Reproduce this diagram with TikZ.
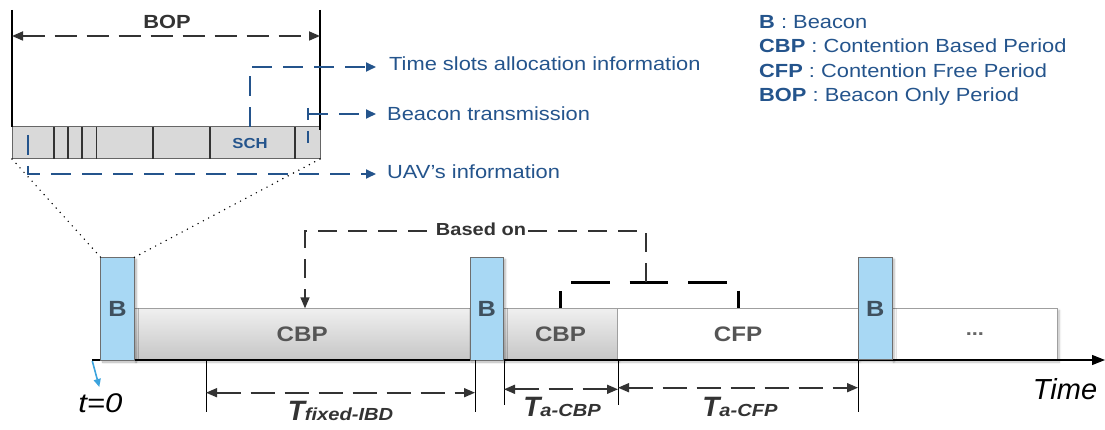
\documentclass[tikz,border=0pt]{standalone}
\usepackage{fontspec}
\setmainfont[FakeStretch=1.15]{Liberation Sans}
\newfontfamily\plainsans{Liberation Sans}
\usetikzlibrary{arrows.meta,shadows.blur}
\definecolor{bfill}{HTML}{A8D8F4}
\definecolor{bborder}{HTML}{6E6E6E}
\definecolor{btext}{HTML}{3F505E}
\definecolor{segtext}{HTML}{555555}
\definecolor{navy}{HTML}{24548C}
\definecolor{dk}{HTML}{333333}
\definecolor{minigray}{HTML}{D9D9D9}
\definecolor{tblue}{HTML}{3BA3DD}
\begin{document}
\begin{tikzpicture}[x=1pt,y=-1pt,
  fs/.style={font=\fontsize{#1}{#1}\selectfont},
  fsb/.style={font=\fontsize{#1}{#1}\selectfont\bfseries},
  bluedash/.style={draw=navy,line width=1.8pt,dash pattern=on 20pt off 11pt},
  bluetip/.style={-{Triangle[length=10pt,width=9pt]}},
  dimline/.style={draw=dk,line width=1.7pt,dash pattern=on 22pt off 10pt},
  dimtips/.style={{Triangle[length=11pt,width=9pt]}-{Triangle[length=11pt,width=9pt]}},
  ticks/.style={draw=black,line width=1pt},
  seg/.style={draw=gray!75,line width=0.8pt,inner sep=0pt,outer sep=0pt,minimum height=51.7pt,
    text=segtext,fsb=21,blur shadow={shadow blur steps=6,shadow xshift=1.5pt,shadow yshift=-2pt,shadow opacity=25}},
  grayshade/.style={top color=gray!12,bottom color=gray!45},
  bbox/.style={draw=bborder,fill=bfill,line width=0.8pt,inner sep=0pt,outer sep=0pt,
    minimum height=102.7pt,text=btext,fsb=22,
    blur shadow={shadow blur steps=6,shadow xshift=2pt,shadow yshift=-2pt,shadow opacity=30}},
  dotline/.style={draw=black,line width=1.6pt,dash pattern=on 0pt off 6pt,line cap=round},
  bluetext/.style={text=navy,fs=19,anchor=base west,inner sep=0pt},
  legtext/.style={text=navy,fs=19,anchor=base west,inner sep=0pt},
]
\useasboundingbox (0,0) rectangle (1105,430);

% ---------- top: BOP detail ----------
\node[draw=gray!80!black,fill=minigray,line width=1pt,minimum width=308pt,minimum height=32pt,inner sep=0pt,outer sep=0pt] (bar) at (166,143) {};
\foreach \x in {53.7,67.7,82,96.3,153,210,295}
  \draw[dk,line width=1.6pt] (\x,127) -- (\x,159);
\coordinate (bopL) at (12,10);
\coordinate (bopR) at (320,10);
\draw[black,line width=1.8pt] (bopL) -- (bar.north west);
\draw[black,line width=1.8pt] (bopR) -- ([yshift=-3pt]bar.north east);
\coordinate (bopAL) at (12,36);
\coordinate (bopAR) at (320,36);
\draw[dimline,dimtips] (bopAL) -- (bopAR);
\node[fsb=19,text=dk,anchor=base,inner sep=0pt] (boplbl) at (167,28.3) {BOP};
\node[fsb=14.5,text=navy,anchor=base,inner sep=0pt] (sch) at (250,149) {SCH};

% blue dashed pointers
\coordinate (uavS) at (28.3,135);
\coordinate (uavC) at (28.3,174);
\coordinate (uavTip) at (376,174);
\draw[bluedash,bluetip] (uavS) -- (uavC) -- (uavTip);
\coordinate (tsC) at (250,67);
\coordinate (tsTip) at (376,67);
\draw[bluedash,bluetip] (bar.north -| sch) -- (tsC) -- (tsTip);
\coordinate (btA) at (308,108);
\coordinate (btB) at (308,143);
\coordinate (btS) at (308,114);
\coordinate (btTip) at (376,114);
\draw[bluedash,dash pattern=on 12pt off 11pt] (btA) -- (btB);
\draw[bluedash,bluetip] (btS) -- (btTip);

\node[bluetext] (ts) at (389,71) {Time slots allocation information};
\node[bluetext] (bt) at (387,121) {Beacon transmission};
\node[bluetext] (uav) at (387,178.3) {UAV's information};

% legend
\node[legtext] (leg1) at (759,28.7) {\textbf{B} : Beacon};
\node[legtext] (leg2) at (759,53.0) {\textbf{CBP} : Contention Based Period};
\node[legtext] (leg3) at (759,77.2) {\textbf{CFP} : Contention Free Period};
\node[legtext] (leg4) at (759,101.4) {\textbf{BOP} : Beacon Only Period};

% ---------- bottom timeline ----------
\node[seg,grayshade,minimum width=335.7pt] (cbp1) at (302.2,334.2) {CBP};
\node[seg,grayshade,minimum width=114.4pt] (cbp2) at (560.5,334.2) {CBP};
\node[seg,fill=white,minimum width=240.6pt] (cfp) at (738,334.2) {CFP};
\node[seg,fill=white,minimum width=165.7pt,text=gray!80!black,fsb=19] (dots) at (974.9,334.2) {...};

\coordinate (ax0) at (92,360);
\coordinate (axEnd) at (1105,360);
\draw[black,line width=1.1pt,-{Triangle[length=13pt,width=10pt]}] (ax0) -- (axEnd);

\node[bbox,minimum width=33.6pt] (b1) at (117.5,308.7) {B};
\node[bbox,minimum width=33.3pt] (b2) at (486.7,308.7) {B};
\node[bbox,minimum width=33.7pt] (b3) at (875.2,308.5) {B};

% zoom dotted lines
\draw[dotline] (bar.south west) -- (b1.north west);
\draw[dotline] (bar.south east) -- (b1.north east);

% t=0
\coordinate (tA) at (92.3,361);
\coordinate (tB) at (99.3,387);
\draw[tblue,line width=1.6pt,-{Triangle[length=8pt,width=7pt]}] (tA) -- (tB);
\node[font=\fontsize{27}{27}\selectfont\itshape,anchor=base,inner sep=0pt] (t0) at (100.3,412.7) {t=0};
\node[font=\plainsans\fontsize{29}{29}\selectfont\itshape,anchor=base,inner sep=0pt] (time) at (1065,399) {Time};

% based-on bracket
\coordinate (brL) at (560,308);
\coordinate (brLT) at (560,282);
\coordinate (brRT) at (738,282);
\coordinate (brR) at (738,308);
\draw[black,line width=3pt,dash pattern=on 38.5pt off 20pt,dash phase=21.5pt] (brL) -- (brLT) -- (brRT) -- (brR);
\coordinate (bmid) at (645.7,282);
\coordinate (bup) at (645.7,231);
\coordinate (bleft) at (305,231);
\draw[dk,line width=1.6pt,dash pattern=on 19pt off 11pt,-{Triangle[length=11pt,width=9pt]}] (bmid) -- (bup) -- (bleft) -- (cbp1.north -| bleft);
\node[fill=white,fsb=17.4,text=dk,inner sep=2pt] (based) at (481,229) {Based on};

% dimension ticks
\foreach \n/\x/\y in {k1/206/412,k2/475/412,k3/504/405,k4/618/405,k5/858/412}{
  \coordinate (\n top) at (\x,360);
  \coordinate (\n bot) at (\x,\y);
  \draw[ticks] (\n top) -- (\n bot);
}
\draw[dimline,dimtips,dash pattern=on 24pt off 10pt] (206,392.7) -- (475,392.7);
\draw[dimline,dimtips,dash pattern=on 24pt off 10pt] (504,389.3) -- (618,389.3);
\draw[dimline,dimtips,dash pattern=on 24pt off 10pt] (618,387.7) -- (858,387.7);

\node[anchor=base,inner sep=0pt,text=dk] (tfix) at (340.5,420)
  {{\plainsans\fontsize{28}{28}\selectfont\bfseries\itshape T}{\fontsize{17.5}{17.5}\selectfont\bfseries\itshape fixed-IBD}};
\node[anchor=base,inner sep=0pt,text=dk] (tcbp) at (562,416)
  {{\plainsans\fontsize{28}{28}\selectfont\bfseries\itshape T}{\fontsize{17.5}{17.5}\selectfont\bfseries\itshape a-CBP}};
\node[anchor=base,inner sep=0pt,text=dk] (tcfp) at (740,416)
  {{\plainsans\fontsize{28}{28}\selectfont\bfseries\itshape T}{\fontsize{17.5}{17.5}\selectfont\bfseries\itshape a-CFP}};
\end{tikzpicture}
\end{document}
